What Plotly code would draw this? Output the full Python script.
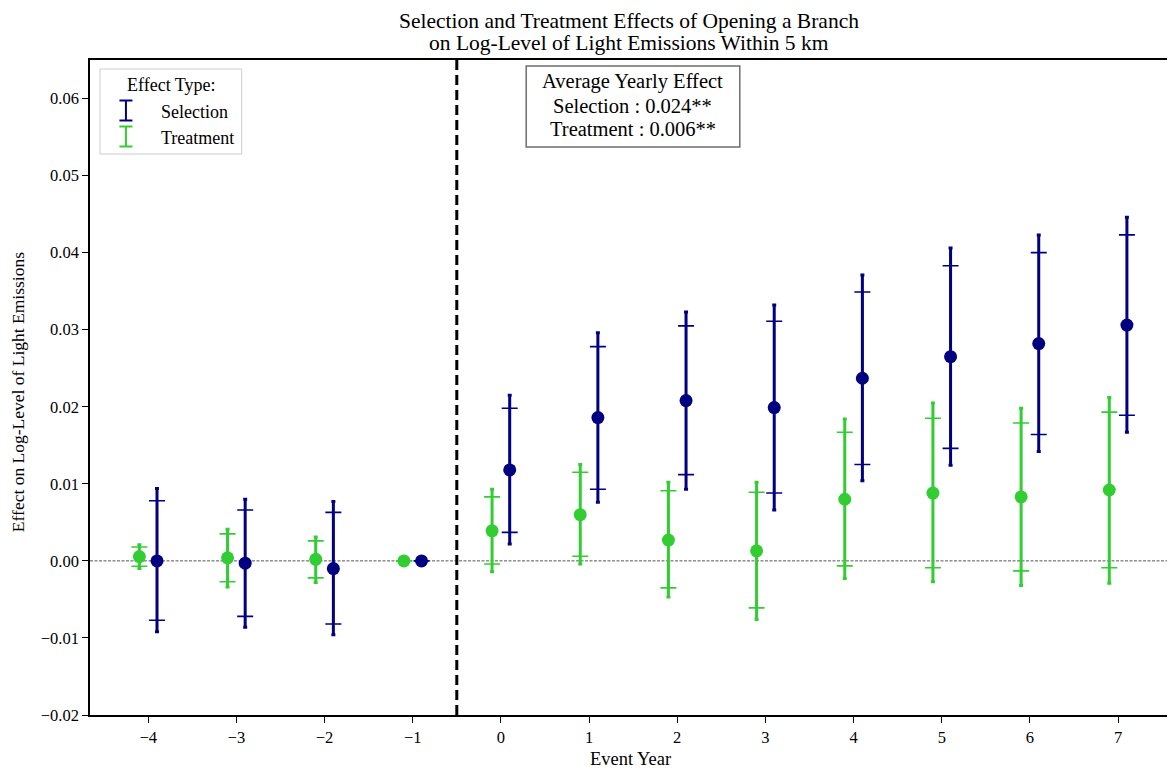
import plotly.graph_objects as go

years = [-4, -3, -2, -1, 0, 1, 2, 3, 4, 5, 6, 7]

sel_est = [0.0000, -0.0003, -0.0010, 0.0, 0.0118, 0.0186, 0.0208, 0.0199, 0.0237, 0.0265, 0.0282, 0.0306]
sel_lo95 = [-0.0092, -0.0086, -0.0096, None, 0.0022, 0.0076, 0.0093, 0.0066, 0.0104, 0.0124, 0.0142, 0.0167]
sel_hi95 = [0.0094, 0.0080, 0.0077, None, 0.0215, 0.0296, 0.0323, 0.0332, 0.0371, 0.0406, 0.0423, 0.0446]
sel_lo90 = [-0.0077, -0.0072, -0.0082, None, 0.0037, 0.0093, 0.0112, 0.0088, 0.0125, 0.0146, 0.0164, 0.0189]
sel_hi90 = [0.0078, 0.0066, 0.0063, None, 0.0198, 0.0278, 0.0305, 0.0311, 0.0349, 0.0383, 0.0400, 0.0423]

trt_est = [0.00056, 0.0004, 0.0002, 0.0, 0.0039, 0.0060, 0.0027, 0.0013, 0.0080, 0.0088, 0.0083, 0.0092]
trt_lo95 = [-0.0010, -0.0034, -0.0028, None, -0.0014, -0.0004, -0.0047, -0.0076, -0.0023, -0.0027, -0.0032, -0.0029]
trt_hi95 = [0.0021, 0.0041, 0.0031, None, 0.0093, 0.0125, 0.0102, 0.0102, 0.0184, 0.0205, 0.0198, 0.0212]
trt_lo90 = [-0.0007, -0.0027, -0.0022, None, -0.0004, 0.0006, -0.0035, -0.0061, -0.00065, -0.0009, -0.0013, -0.0009]
trt_hi90 = [0.0018, 0.0035, 0.0026, None, 0.0083, 0.0115, 0.0091, 0.0089, 0.0167, 0.0185, 0.0179, 0.0193]

ytick_vals = [-0.02, -0.01, 0.0, 0.01, 0.02, 0.03, 0.04, 0.05, 0.06]

title_lines = ["Selection and Treatment Effects of Opening a Branch",
               "on Log-Level of Light Emissions Within 5 km"]
box_lines = ["Average Yearly Effect", "Selection : 0.024**", "Treatment : 0.006**"]

series = [
    ("Treatment", -0.1, trt_est, trt_lo95, trt_hi95, trt_lo90, trt_hi90, "#32CD32"),
    ("Selection", 0.1, sel_est, sel_lo95, sel_hi95, sel_lo90, sel_hi90, "#000080"),
]

FONT = "Liberation Serif"


def diff(a, b):
    out = []
    for x, y in zip(a, b):
        if x is None or y is None:
            out.append(None)
        else:
            out.append(x - y)
    return out


fig = go.Figure()

for name, off, est, lo95, hi95, lo90, hi90, col in series:
    xs = [y + off for y in years]
    fig.add_trace(go.Scatter(
        x=xs, y=est, mode="markers", showlegend=False,
        marker=dict(size=4, color="rgba(0,0,0,0)"),
        error_y=dict(type="data", symmetric=False,
                     array=diff(hi95, est), arrayminus=diff(est, lo95),
                     color=col, thickness=3, width=2),
        hoverinfo="skip",
    ))
    fig.add_trace(go.Scatter(
        x=xs, y=est, mode="markers", name=name, showlegend=False,
        marker=dict(size=13, color=col),
        error_y=dict(type="data", symmetric=False,
                     array=diff(hi90, est), arrayminus=diff(est, lo90),
                     color=col, thickness=1.6, width=8),
    ))

# reference lines
fig.add_hline(y=0, line=dict(color="#555555", width=1, dash="3px,1.5px"), layer="below")
fig.add_vline(x=-0.5, line=dict(color="black", width=3, dash="10px,5px"))

# page offset: the html body has an 8px margin
OFF = 8
FIG_W, FIG_H = 1175 - OFF, 771 - OFF
# plot area in page pixels: x 90..1173, y 60..715
L, R, T, B = 90, 1173, 60, 715
W, H = R - L, B - T


def px(x):
    return (x - L) / W


def py(y):
    return (B - y) / H


# legend box
fig.add_shape(type="rect", xref="paper", yref="paper",
              x0=px(100), x1=px(242), y0=py(154), y1=py(69),
              line=dict(color="#cccccc", width=1), fillcolor="rgba(255,255,255,0.8)")
fig.add_annotation(xref="paper", yref="paper", x=px(171.5), y=py(85), text="Effect Type:",
                   showarrow=False, font=dict(family=FONT, size=18, color="black"),
                   xanchor="center", yanchor="middle")
for label, col, yc in [("Selection", "#000080", 110.5), ("Treatment", "#32CD32", 136.5)]:
    fig.add_shape(type="line", xref="paper", yref="paper",
                  x0=px(126), x1=px(126), y0=py(yc - 10), y1=py(yc + 10),
                  line=dict(color=col, width=2))
    for dy in (-10, 10):
        fig.add_shape(type="line", xref="paper", yref="paper",
                      x0=px(119.5), x1=px(132.5), y0=py(yc + dy), y1=py(yc + dy),
                      line=dict(color=col, width=2))
    fig.add_annotation(xref="paper", yref="paper", x=px(159), y=py(yc + 1), text=label,
                       showarrow=False, font=dict(family=FONT, size=18, color="black"),
                       xanchor="left", yanchor="middle")

# average effect box
fig.add_shape(type="rect", xref="paper", yref="paper",
              x0=px(527), x1=px(741), y0=py(147), y1=py(66),
              line=dict(color="#6e6e6e", width=1.5), fillcolor="white")
for txt, yc in zip(box_lines, [82, 106, 129]):
    fig.add_annotation(xref="paper", yref="paper", x=px(634), y=py(yc), text=txt,
                       showarrow=False, font=dict(family=FONT, size=20.5, color="black"),
                       xanchor="center", yanchor="middle")

# title lines
for txt, yc in zip(title_lines, [21, 43]):
    fig.add_annotation(xref="paper", yref="paper", x=px(630), y=py(yc), text=txt,
                       showarrow=False, font=dict(family=FONT, size=21.5, color="black"),
                       xanchor="center", yanchor="middle")

# axis titles
fig.add_annotation(xref="paper", yref="paper", x=px(632), y=py(759), text="Event Year",
                   showarrow=False, font=dict(family=FONT, size=18.5, color="black"),
                   xanchor="center", yanchor="middle")
fig.add_annotation(xref="paper", yref="paper", x=px(18), y=py(392),
                   text="Effect on Log-Level of Light Emissions", textangle=-90,
                   showarrow=False, font=dict(family=FONT, size=17.5, color="black"),
                   xanchor="center", yanchor="middle")

fig.update_layout(
    width=FIG_W, height=FIG_H,
    margin=dict(l=L - OFF, r=FIG_W - (R - OFF), t=T - OFF, b=FIG_H - (B - OFF)),
    paper_bgcolor="white", plot_bgcolor="white",
    font=dict(family=FONT, size=16.5, color="black"),
    showlegend=False,
)
fig.update_xaxes(range=[-4.66, 7.6], tickmode="array", tickvals=years,
                 ticktext=[("\u2212" + str(-v)) if v < 0 else str(v) for v in years],
                 showgrid=False, zeroline=False, showline=True, linecolor="black",
                 linewidth=1.5, mirror=True, ticks="outside", ticklen=6, tickcolor="black",
                 tickfont=dict(family=FONT, size=16.5))
fig.update_yaxes(range=[-0.02, 0.065], tickmode="array",
                 tickvals=ytick_vals,
                 ticktext=[("\u2212%.2f" % -v) if v < 0 else ("%.2f" % v) for v in ytick_vals],
                 showgrid=False, zeroline=False, showline=True, linecolor="black",
                 linewidth=1.5, mirror=True, ticks="outside", ticklen=6, tickcolor="black",
                 tickfont=dict(family=FONT, size=16.5))

fig.write_html("out.html")
